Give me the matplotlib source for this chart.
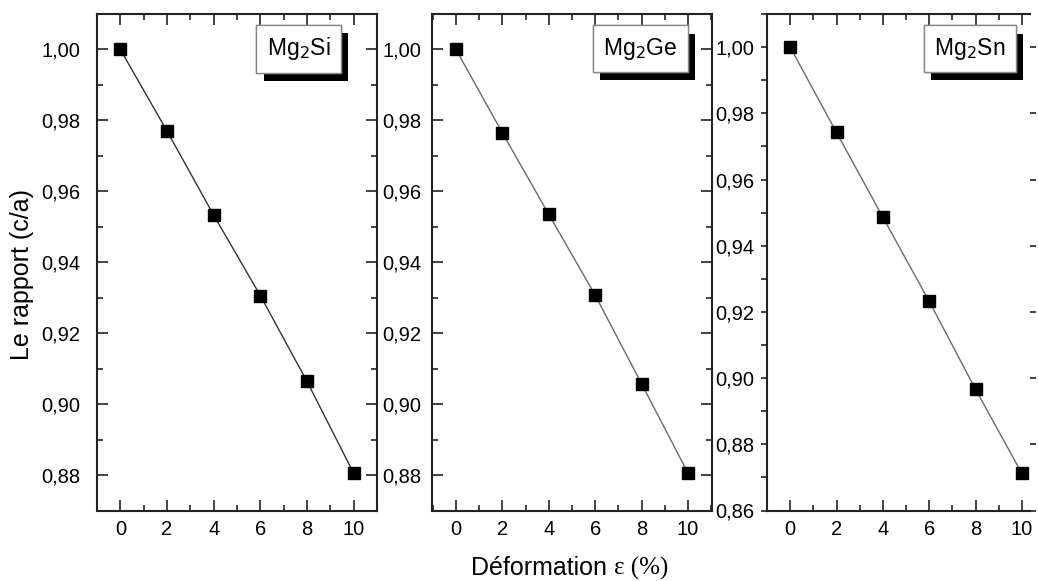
import matplotlib
matplotlib.use("Agg")
import matplotlib.pyplot as plt
import matplotlib.patheffects as pe
from matplotlib.ticker import MultipleLocator, FuncFormatter

plt.rcParams['font.family'] = ['Liberation Sans', 'DejaVu Sans']

# deformation (%)
strain = [0, 2, 4, 6, 8, 10]

# c/a ratio
ca_mg2si = [1.000, 0.9770, 0.9533, 0.9306, 0.9064, 0.8805]
ca_mg2ge = [1.000, 0.9765, 0.9535, 0.9307, 0.9057, 0.8805]
ca_mg2sn = [1.000, 0.9742, 0.9486, 0.9232, 0.8966, 0.8712]

labels = ['Mg$_2$Si', 'Mg$_2$Ge', 'Mg$_2$Sn']
series = [ca_mg2si, ca_mg2ge, ca_mg2sn]

fig = plt.figure(figsize=(10.38, 5.81), dpi=100)

# axes rectangles (fractions of the figure)
W, H = 1038, 581
bottom = 1 - 510.5 / H
height = (510.5 - 14) / H
rects = [(97, 377), (432, 712), (767, 1030)]
ylims = [(0.87, 1.01), (0.87, 1.01), (0.86, 1.01)]
xlims = [(-1, 11), (-1.03, 11.03), (-1, 10.35)]
line_cols = ['#333333', '#6a6a6a', '#6a6a6a']
box_x = [0.72, 0.743, 0.771]
ypads = [12, 8, 5]

comma = FuncFormatter(lambda v, p: ('%.2f' % v).replace('.', ','))

for i in range(3):
    l, r = rects[i]
    ax = fig.add_axes([l / W, bottom, (r - l) / W, height])
    ax.plot(strain, series[i], '-', color=line_cols[i], lw=1.0, zorder=2)
    ax.plot(strain, series[i], 's', color='black', ms=8, zorder=3)
    ax.set_xlim(*xlims[i])
    ax.set_ylim(*ylims[i])

    ax.xaxis.set_major_locator(MultipleLocator(2))
    ax.xaxis.set_minor_locator(MultipleLocator(1))
    ax.yaxis.set_major_locator(MultipleLocator(0.02))
    ax.yaxis.set_minor_locator(MultipleLocator(0.01))
    ax.yaxis.set_major_formatter(comma)

    ax.tick_params(which='both', direction='in', top=True, right=True,
                   labelsize=14.5, width=1.2, color='#222222')
    ax.tick_params(which='major', length=8)
    ax.tick_params(which='minor', length=4)
    ax.tick_params(axis='x', pad=7)
    ax.tick_params(axis='y', pad=ypads[i])
    if i == 2:
        ax.spines['right'].set_visible(False)
        ax.tick_params(axis='y', which='both', direction='out', length=4)
        ax.tick_params(axis='y', which='minor', right=False)
    for s in ax.spines.values():
        s.set_linewidth(1.5)
        s.set_color('#222222')

    t = ax.text(box_x[i], 0.93, labels[i], transform=ax.transAxes,
                ha='center', va='center', fontsize=16.5, zorder=5,
                bbox=dict(boxstyle='square,pad=0.45', fc='white',
                          ec='#888888', lw=1.0))
    t.get_bbox_patch().set_path_effects(
        [pe.withSimplePatchShadow(offset=(5.5, -6), shadow_rgbFace='black',
                                  alpha=1.0), pe.Normal()])

fig.text(22 / W, 1 - 275 / H, 'Le rapport (c/a)', rotation=90,
         ha='center', va='center', fontsize=18)
fig.text(614 / W, 1 - 568 / H, 'Déformation ', ha='right', va='center',
         fontsize=18)
fig.text(614 / W, 1 - 568 / H, 'ε (%)', ha='left', va='center',
         fontsize=18, family=['Liberation Serif', 'DejaVu Serif'])

fig.savefig('out.png', dpi=100)
